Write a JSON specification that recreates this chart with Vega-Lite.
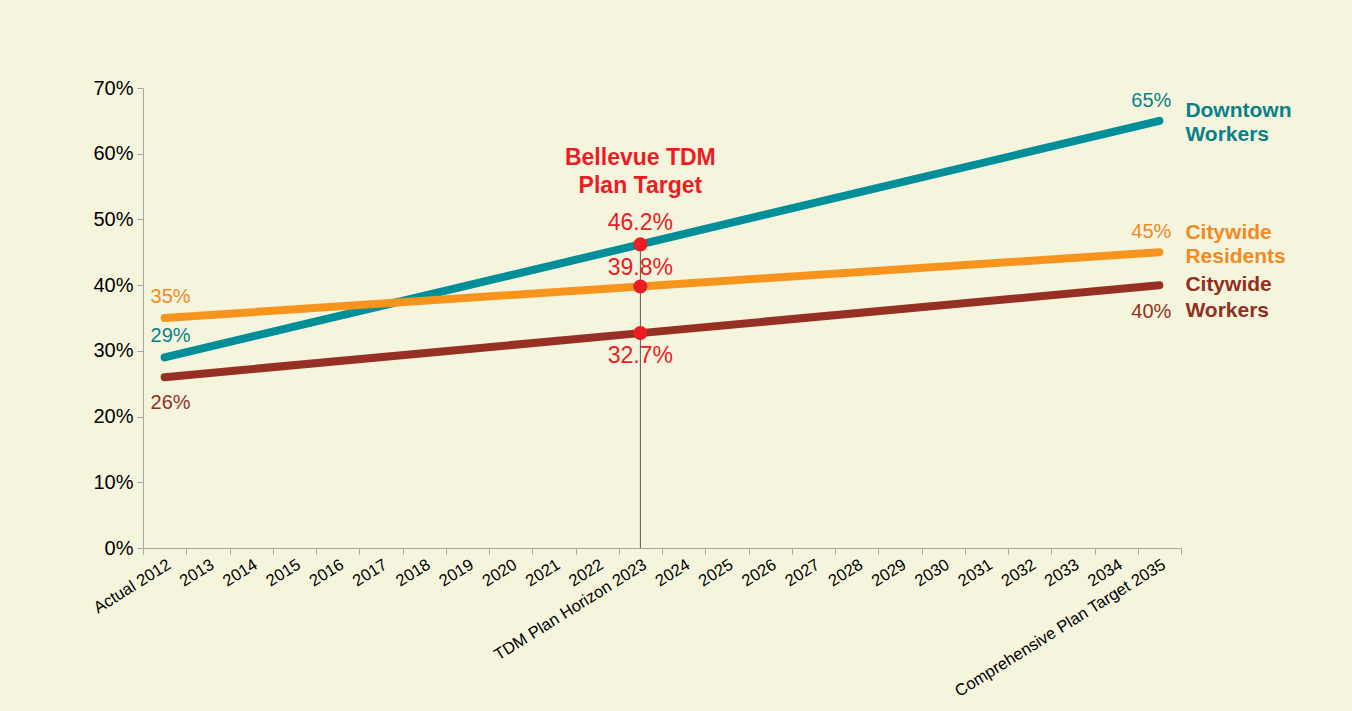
{
  "$schema": "https://vega.github.io/schema/vega-lite/v6.json",
  "width": 1038,
  "height": 460,
  "autosize": {"type": "none"},
  "padding": {"left": 143, "top": 88, "right": 171, "bottom": 163},
  "background": "#f5f5de",
  "config": {"view": {"stroke": null}, "font": "Liberation Sans"},
  "data": {
    "values": [
      {"year": 2012, "series": "Downtown Workers", "value": 0.29},
      {"year": 2023, "series": "Downtown Workers", "value": 0.462},
      {"year": 2035, "series": "Downtown Workers", "value": 0.65},
      {"year": 2012, "series": "Citywide Residents", "value": 0.35},
      {"year": 2023, "series": "Citywide Residents", "value": 0.398},
      {"year": 2035, "series": "Citywide Residents", "value": 0.45},
      {"year": 2012, "series": "Citywide Workers", "value": 0.26},
      {"year": 2023, "series": "Citywide Workers", "value": 0.327},
      {"year": 2035, "series": "Citywide Workers", "value": 0.40}
    ]
  },
  "encoding": {
    "x": {
      "field": "year",
      "type": "ordinal",
      "bandPosition": 0.5,
      "scale": {
        "type": "band",
        "paddingInner": 0,
        "paddingOuter": 0,
        "domain": [2012, 2013, 2014, 2015, 2016, 2017, 2018, 2019, 2020, 2021, 2022, 2023, 2024, 2025, 2026, 2027, 2028, 2029, 2030, 2031, 2032, 2033, 2034, 2035]
      },
      "axis": {
        "title": null,
        "labelExpr": "datum.value == 2012 ? 'Actual 2012' : datum.value == 2023 ? 'TDM Plan Horizon 2023' : datum.value == 2035 ? 'Comprehensive Plan Target 2035' : datum.label",
        "labelAngle": -32,
        "labelAlign": "right",
        "labelBaseline": "top",
        "labelFontSize": 16.5,
        "labelColor": "#000000",
        "labelPadding": 2,
        "labelLimit": 0,
        "labelOverlap": false,
        "labelBound": false,
        "labelFlush": false,
        "tickBand": "extent",
        "tickSize": 6,
        "tickColor": "#a6a6a6",
        "domainColor": "#a6a6a6",
        "grid": false
      }
    },
    "y": {
      "field": "value",
      "type": "quantitative",
      "scale": {"domain": [0, 0.7], "nice": false},
      "axis": {
        "title": null,
        "format": ".0%",
        "values": [0, 0.1, 0.2, 0.3, 0.4, 0.5, 0.6, 0.7],
        "labelFontSize": 20,
        "labelColor": "#000000",
        "labelPadding": 4,
        "tickSize": 6,
        "tickColor": "#a6a6a6",
        "domainColor": "#a6a6a6",
        "grid": false
      }
    }
  },
  "layer": [
    {
      "transform": [{"filter": "datum.year == 2023 && datum.series == 'Downtown Workers'"}],
      "mark": {"type": "rule", "color": "#555555", "strokeWidth": 1},
      "encoding": {"y2": {"datum": 0}}
    },
    {
      "mark": {"type": "line", "strokeWidth": 8, "strokeCap": "round"},
      "encoding": {
        "order": {"field": "year", "type": "quantitative"},
        "color": {
          "field": "series",
          "type": "nominal",
          "legend": null,
          "scale": {
            "domain": ["Downtown Workers", "Citywide Residents", "Citywide Workers"],
            "range": ["#008e98", "#f7941e", "#963024"]
          }
        }
      }
    },
    {
      "transform": [{"filter": "datum.year == 2023"}],
      "mark": {"type": "circle", "size": 200, "color": "#ec1c24", "opacity": 1}
    },
    {
      "transform": [{"filter": "datum.year == 2023 && datum.series == 'Downtown Workers'"}],
      "mark": {"type": "text", "color": "#ec1c24", "fontSize": 23, "dy": -21},
      "encoding": {"text": {"field": "value", "type": "quantitative", "format": ".1%"}}
    },
    {
      "transform": [{"filter": "datum.year == 2023 && datum.series == 'Citywide Residents'"}],
      "mark": {"type": "text", "color": "#ec1c24", "fontSize": 23, "dy": -18},
      "encoding": {"text": {"field": "value", "type": "quantitative", "format": ".1%"}}
    },
    {
      "transform": [{"filter": "datum.year == 2023 && datum.series == 'Citywide Workers'"}],
      "mark": {"type": "text", "color": "#ec1c24", "fontSize": 23, "dy": 23},
      "encoding": {"text": {"field": "value", "type": "quantitative", "format": ".1%"}}
    },
    {
      "transform": [{"filter": "datum.year == 2023 && datum.series == 'Downtown Workers'"}],
      "mark": {"type": "text", "color": "#ec1c24", "fontSize": 23, "fontWeight": "bold", "dy": -86, "lineHeight": 28},
      "encoding": {"text": {"value": ["Bellevue TDM", "Plan Target"]}}
    },
    {
      "transform": [{"filter": "datum.year == 2012 && datum.series != 'Citywide Workers'"}],
      "mark": {"type": "text", "fontSize": 20, "dy": -21, "dx": 6},
      "encoding": {
        "text": {"field": "value", "type": "quantitative", "format": ".0%"},
        "color": {"field": "series", "type": "nominal", "legend": null, "scale": {"domain": ["Downtown Workers", "Citywide Residents", "Citywide Workers"], "range": ["#0a8088", "#f08a24", "#92301f"]}}
      }
    },
    {
      "transform": [{"filter": "datum.year == 2012 && datum.series == 'Citywide Workers'"}],
      "mark": {"type": "text", "fontSize": 20, "dy": 26, "dx": 6},
      "encoding": {
        "text": {"field": "value", "type": "quantitative", "format": ".0%"},
        "color": {"field": "series", "type": "nominal", "legend": null, "scale": {"domain": ["Downtown Workers", "Citywide Residents", "Citywide Workers"], "range": ["#0a8088", "#f08a24", "#92301f"]}}
      }
    },
    {
      "transform": [{"filter": "datum.year == 2035 && datum.series != 'Citywide Workers'"}],
      "mark": {"type": "text", "fontSize": 20, "dy": -20, "dx": -8},
      "encoding": {
        "text": {"field": "value", "type": "quantitative", "format": ".0%"},
        "color": {"field": "series", "type": "nominal", "legend": null, "scale": {"domain": ["Downtown Workers", "Citywide Residents", "Citywide Workers"], "range": ["#0a8088", "#f08a24", "#92301f"]}}
      }
    },
    {
      "transform": [{"filter": "datum.year == 2035 && datum.series == 'Citywide Workers'"}],
      "mark": {"type": "text", "fontSize": 20, "dy": 27, "dx": -8},
      "encoding": {
        "text": {"field": "value", "type": "quantitative", "format": ".0%"},
        "color": {"field": "series", "type": "nominal", "legend": null, "scale": {"domain": ["Downtown Workers", "Citywide Residents", "Citywide Workers"], "range": ["#0a8088", "#f08a24", "#92301f"]}}
      }
    },
    {
      "transform": [{"filter": "datum.year == 2035 && datum.series == 'Downtown Workers'"}],
      "mark": {"type": "text", "fontSize": 21, "fontWeight": "bold", "align": "left", "dx": 26, "dy": -10, "lineBreak": " ", "lineHeight": 24},
      "encoding": {
        "text": {"field": "series", "type": "nominal"},
        "color": {"field": "series", "type": "nominal", "legend": null, "scale": {"domain": ["Downtown Workers", "Citywide Residents", "Citywide Workers"], "range": ["#0a8088", "#f08a24", "#92301f"]}}
      }
    },
    {
      "transform": [{"filter": "datum.year == 2035 && datum.series == 'Citywide Residents'"}],
      "mark": {"type": "text", "fontSize": 21, "fontWeight": "bold", "align": "left", "dx": 26, "dy": -19, "lineBreak": " ", "lineHeight": 24},
      "encoding": {
        "text": {"field": "series", "type": "nominal"},
        "color": {"field": "series", "type": "nominal", "legend": null, "scale": {"domain": ["Downtown Workers", "Citywide Residents", "Citywide Workers"], "range": ["#0a8088", "#f08a24", "#92301f"]}}
      }
    },
    {
      "transform": [{"filter": "datum.year == 2035 && datum.series == 'Citywide Workers'"}],
      "mark": {"type": "text", "fontSize": 21, "fontWeight": "bold", "align": "left", "dx": 26, "dy": 0, "lineBreak": " ", "lineHeight": 26},
      "encoding": {
        "text": {"field": "series", "type": "nominal"},
        "color": {"field": "series", "type": "nominal", "legend": null, "scale": {"domain": ["Downtown Workers", "Citywide Residents", "Citywide Workers"], "range": ["#0a8088", "#f08a24", "#92301f"]}}
      }
    }
  ],
  "resolve": {"scale": {"color": "independent"}}
}
